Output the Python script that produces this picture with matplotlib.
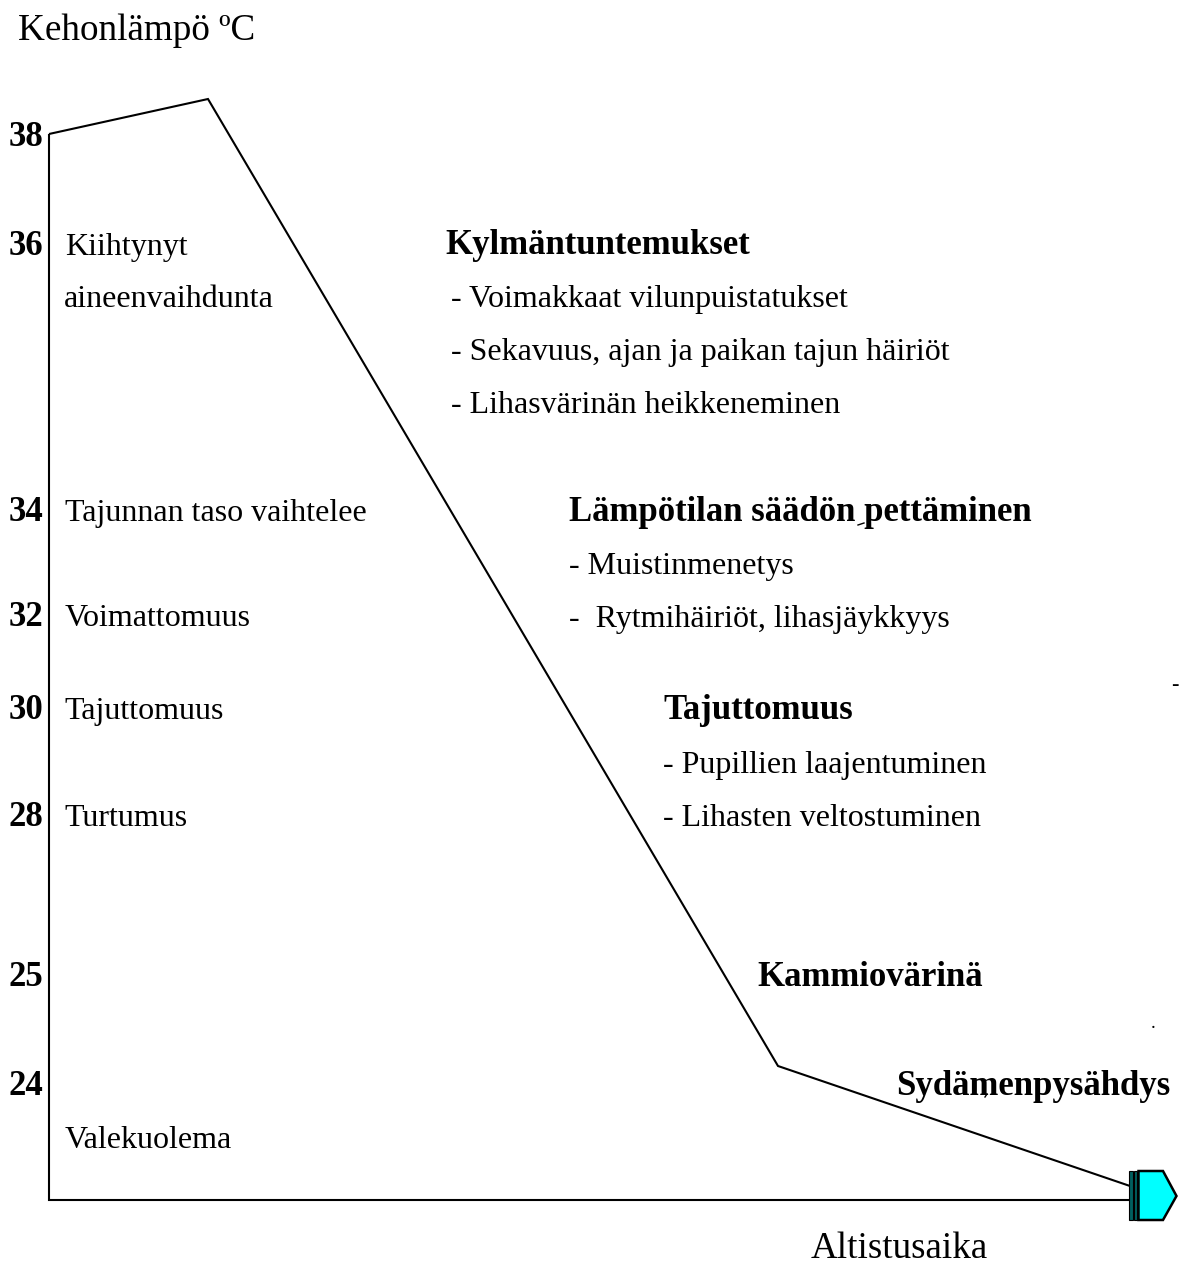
import matplotlib.pyplot as plt
from matplotlib.patches import Polygon, Rectangle

plt.rcParams["font.family"] = ["Liberation Serif", "DejaVu Serif"]

W, H = 1182, 1262

# curve and axis, read in picture pixels
curve_x = [49, 208, 778, 1130]
curve_y = [134, 99, 1066, 1186]
axis_x = [49, 49, 1130]
axis_y = [134, 1200, 1200]

# text rows are given by their baselines
temp_labels = ["38", "36", "34", "32", "30", "28", "25", "24"]
temp_y = [146, 255, 521, 626, 719, 826, 986, 1095]

left_labels = ["Kiihtynyt", "aineenvaihdunta", "Tajunnan taso vaihtelee", "Voimattomuus",
               "Tajuttomuus", "Turtumus", "Valekuolema"]
left_x = [65, 64, 65, 65, 64, 64, 65]
left_y = [255, 307, 521, 626, 719, 826, 1148]

head_labels = ["Kylmäntuntemukset", "Lämpötilan säädön pettäminen", "Tajuttomuus", "Kammiovärinä", "Sydämenpysähdys"]
head_x = [445, 569, 663, 757, 896]
head_y = [254, 521, 719, 986, 1095]

item_labels = ["- Voimakkaat vilunpuistatukset", "- Sekavuus, ajan ja paikan tajun häiriöt",
               "- Lihasvärinän heikkeneminen", "- Muistinmenetys", "-  Rytmihäiriöt, lihasjäykkyys",
               "- Pupillien laajentuminen", "- Lihasten veltostuminen"]
item_x = [451, 451, 451, 569, 569, 663, 663]
item_y = [307, 360, 413, 574, 627, 773, 826]

fig = plt.figure(figsize=(W / 100, H / 100), dpi=100)
ax = fig.add_axes([0, 0, 1, 1])
ax.set_xlim(0, W)
ax.set_ylim(H, 0)
ax.axis("off")

ax.plot(axis_x, axis_y, c="k", lw=1.5, solid_joinstyle="miter", solid_capstyle="butt")
ax.plot(curve_x, curve_y, c="k", lw=1.5, solid_joinstyle="miter", solid_capstyle="butt")

# arrow head at the end of the axis
ax.add_patch(Polygon([(1138.5, 1171), (1163, 1171), (1176.5, 1196), (1163, 1220), (1138.5, 1220)],
                     fc="#00ffff", ec="k", lw=1.8, zorder=3))
for x0, w in ((1128.5, 4), (1133.5, 3)):
    ax.add_patch(Rectangle((x0, 1171), w, 49, fc="#006060", ec="k", lw=0.8, zorder=3))

ax.text(18, 40, "Kehonlämpö ºC", fontsize=26.7, va="baseline", ha="left")
ax.text(811, 1258, "Altistusaika", fontsize=26.7, va="baseline", ha="left")

for lab, y in zip(temp_labels, temp_y):
    ax.text(9, y, lab, fontsize=25, fontweight="bold", va="baseline", ha="left")
for lab, x, y in zip(left_labels, left_x, left_y):
    ax.text(x, y, lab, fontsize=23, va="baseline", ha="left")
for lab, x, y in zip(head_labels, head_x, head_y):
    ax.text(x, y, lab, fontsize=25, fontweight="bold", va="baseline", ha="left")
for lab, x, y in zip(item_labels, item_x, item_y):
    ax.text(x, y, lab, fontsize=23, va="baseline", ha="left")

# stray specks in the original
ax.text(1175, 686, "-", fontsize=16, va="center", ha="center")
ax.text(1153, 1024, ".", fontsize=14, va="center", ha="center")
ax.plot([858, 864], [525, 523], c="k", lw=1)
ax.plot([985, 987], [1097, 1094], c="k", lw=1)

fig.savefig("out.png", dpi=100)
